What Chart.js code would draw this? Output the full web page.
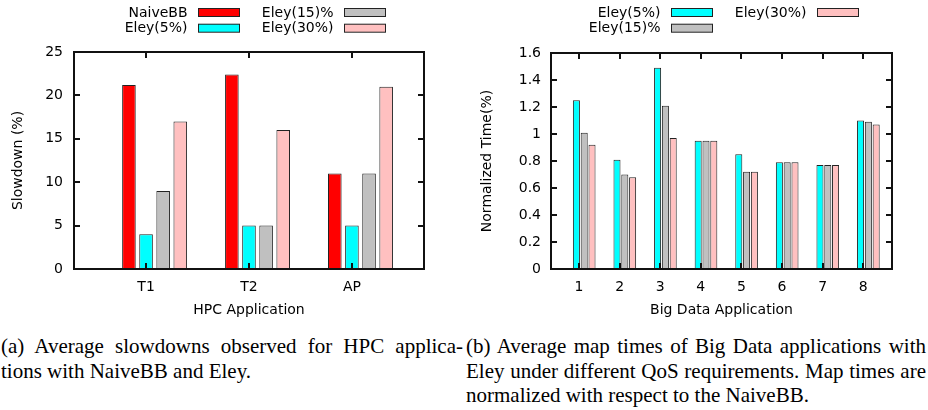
<!DOCTYPE html>
<html>
<head>
<meta charset="utf-8">
<script src="https://cdn.jsdelivr.net/npm/chart.js@4.4.1/dist/chart.umd.min.js"></script>
<style>
  html, body { margin: 0; padding: 0; background: #fff; }
  #page { position: relative; width: 928px; height: 410px; overflow: hidden; }
  canvas { position: absolute; top: 0; }
  .cap {
    position: absolute; top: 334px;
    font-family: 'Liberation Serif', 'Times New Roman', serif;
    font-size: 21px; line-height: 24.5px; color: #000;
  }
  .cap .j { text-align: justify; text-align-last: justify; }
</style>
</head>
<body>
<div id="page">
  <canvas id="hpc" width="464" height="320" style="left:0"></canvas>
  <canvas id="bigdata" width="464" height="320" style="left:464px"></canvas>
  <div class="cap" style="left:1px; width:462px;">
    <div class="j">(a) Average slowdowns observed for HPC applica-</div>
    <div>tions with NaiveBB and Eley.</div>
  </div>
  <div class="cap" style="left:466px; width:460px;">
    <div class="j">(b) Average map times of Big Data applications with</div>
    <div class="j">Eley under different QoS requirements. Map times are</div>
    <div>normalized with respect to the NaiveBB.</div>
  </div>
</div>
<script>
// (a) HPC slowdowns
const hpcApps = ['T1', 'T2', 'AP'];
const hpcNaiveBB = [21.2, 22.4, 11];
const hpcEley5 = [4, 5, 5];
const hpcEley15 = [9, 5, 11];
const hpcEley30 = [17, 16, 21];
const hpcYTicks = [0, 5, 10, 15, 20, 25];
const hpcYLabels = ['0', '5', '10', '15', '20', '25'];

// (b) Big Data normalized map times
const bdApps = ['1', '2', '3', '4', '5', '6', '7', '8'];
const bdEley5 = [1.25, 0.81, 1.49, 0.95, 0.85, 0.79, 0.77, 1.10];
const bdEley15 = [1.01, 0.70, 1.21, 0.95, 0.72, 0.79, 0.77, 1.09];
const bdEley30 = [0.92, 0.68, 0.97, 0.95, 0.72, 0.79, 0.77, 1.07];
const bdYTicks = [0, 0.2, 0.4, 0.6, 0.8, 1, 1.2, 1.4, 1.6];
const bdYLabels = ['0', '0.2', '0.4', '0.6', '0.8', '1', '1.2', '1.4', '1.6'];

Chart.defaults.font.family = "'DejaVu Sans', sans-serif";
Chart.defaults.font.size = 14;
Chart.defaults.color = '#000';
Chart.defaults.animation = false;

const RED = '#ff0000', CYAN = '#00ffff', GRAY = '#c0c0c0', PINK = '#ffc0c0';

// gnuplot look, one instance per chart: key (text left of a flat box,
// filled column by column), then the box border with inward ticks
function gnuplotLook(boxX, rows) {
  return {
    id: 'gnuplotLook',
    afterDraw(chart) {
      const { ctx, chartArea: a } = chart;
      const x = chart.scales.x, y = chart.scales.y;
      ctx.save();
      ctx.font = "14px 'DejaVu Sans', sans-serif";
      ctx.textAlign = 'right';
      ctx.textBaseline = 'middle';
      chart.data.datasets.forEach((ds, i) => {
        const bx = boxX[Math.floor(i / 2)];
        const cy = rows[i % 2];
        ctx.fillStyle = '#000';
        ctx.fillText(ds.label, bx - 10.5, cy + 1);
        ctx.fillStyle = '#222';
        ctx.fillRect(bx, cy - 4, 42, 9);
        ctx.fillStyle = ds.backgroundColor;
        ctx.fillRect(bx + 1, cy - 3, 40, 7);
      });

      ctx.fillStyle = '#111';
      const L = Math.round(a.left), R = Math.round(a.right), T = Math.round(a.top), B = Math.round(a.bottom);
      y.ticks.forEach(t => {
        const py = Math.round(y.getPixelForValue(t.value));
        ctx.fillRect(L, py - 1, 6, 2);
        ctx.fillRect(R - 6, py - 1, 6, 2);
      });
      x.ticks.forEach(t => {
        const px = Math.round(x.getPixelForValue(t.value));
        ctx.fillRect(px - 1, T, 2, 6);
        ctx.fillRect(px - 1, B - 6, 2, 6);
      });
      ctx.fillRect(L - 1, T - 1, R - L + 2, 2);
      ctx.fillRect(L - 1, B - 1, R - L + 2, 2);
      ctx.fillRect(L - 1, T - 1, 2, B - T + 2);
      ctx.fillRect(R - 1, T - 1, 2, B - T + 2);
      ctx.restore();
    }
  };
}

function bars(label, values, color, xOf) {
  return {
    label,
    data: values.map((v, i) => ({ x: xOf(i), y: v })),
    backgroundColor: color,
    borderColor: '#222',
    borderWidth: 1,
    borderSkipped: false
  };
}

function makeChart(id, c) {
  return new Chart(document.getElementById(id), {
    type: 'bar',
    data: { datasets: c.datasets },
    options: {
      responsive: false,
      animation: false,
      layout: { padding: { top: c.top, right: c.right, left: 0, bottom: 0 } },
      datasets: { bar: { categoryPercentage: c.catPct, barPercentage: c.barPct } },
      plugins: { legend: { display: false }, tooltip: { enabled: false } },
      scales: {
        x: {
          type: 'linear', min: c.xMin, max: c.xMax, offset: false,
          grid: { display: false, drawTicks: false, offset: false },
          border: { display: false },
          afterBuildTicks: s => { s.ticks = c.cats.map((_, i) => ({ value: c.tickX(i) })); },
          afterFit: s => { s.height = 51; },
          ticks: { padding: 10, autoSkip: false, maxRotation: 0, callback: (v, i) => c.cats[i] },
          title: { display: true, text: c.xTitle, padding: { top: 0, bottom: 1.6 } }
        },
        y: {
          min: 0, max: c.yMax,
          grid: { display: false, drawTicks: false },
          border: { display: false },
          afterBuildTicks: s => { s.ticks = c.yTicks.map(v => ({ value: v })); },
          afterFit: s => { s.width = c.yWidth; },
          ticks: { padding: c.yPad, callback: (v, i) => c.yLabels[i] },
          title: { display: true, text: c.yTitle, padding: { top: c.yTitlePad, bottom: 0 } }
        }
      }
    },
    plugins: [gnuplotLook(c.boxX, [12, 27.7])]
  });
}

const hpcX = i => i + 0.083;
makeChart('hpc', {
  datasets: [
    bars('NaiveBB', hpcNaiveBB, RED, hpcX),
    bars('Eley(5%)', hpcEley5, CYAN, hpcX),
    bars('Eley(15)%', hpcEley15, GRAY, hpcX),
    bars('Eley(30%)', hpcEley30, PINK, hpcX)
  ],
  cats: hpcApps, tickX: i => i, xMin: -0.7, xMax: 2.7,
  yTicks: hpcYTicks, yLabels: hpcYLabels, yMax: 25,
  xTitle: 'HPC Application', yTitle: 'Slowdown (%)',
  top: 52, right: 40, yWidth: 74, yPad: 11, yTitlePad: 9.5,
  catPct: 0.665, barPct: 0.795, boxX: [198, 344]
});

const bdX = i => i + 1.128;
makeChart('bigdata', {
  datasets: [
    bars('Eley(5%)', bdEley5, CYAN, bdX),
    bars('Eley(15)%', bdEley15, GRAY, bdX),
    bars('Eley(30%)', bdEley30, PINK, bdX)
  ],
  cats: bdApps, tickX: i => i + 1, xMin: 0.31, xMax: 8.71,
  yTicks: bdYTicks, yLabels: bdYLabels, yMax: 1.6,
  xTitle: 'Big Data Application', yTitle: 'Normalized Time(%)',
  top: 53, right: 36, yWidth: 87, yPad: 10, yTitlePad: 14.6,
  catPct: 0.577, barPct: 0.9, boxX: [207, 353]
});
</script>
</body>
</html>
